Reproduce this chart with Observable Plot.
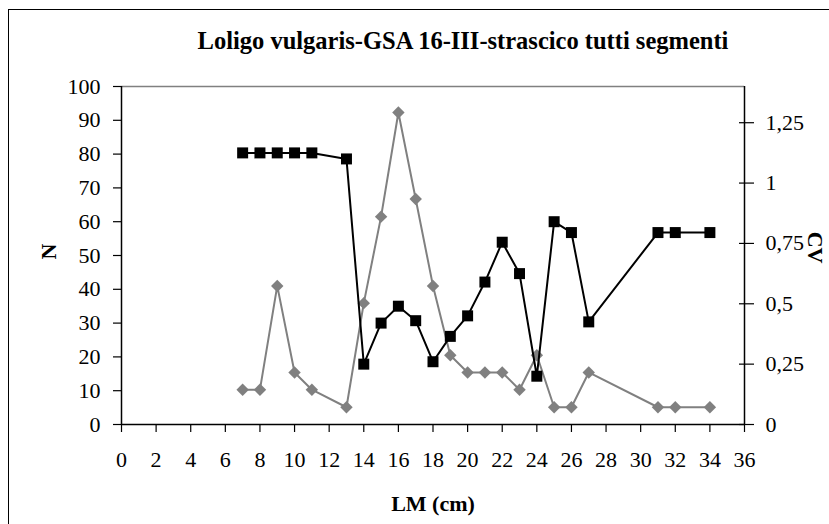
<!DOCTYPE html>
<html><head><meta charset="utf-8">
<script src="https://cdn.jsdelivr.net/npm/d3@7"></script>
<script src="https://cdn.jsdelivr.net/npm/@observablehq/plot@0.6"></script>
<style>
html,body{margin:0;padding:0;background:#fff;overflow:hidden;}
#wrap{position:relative;width:829px;height:524px;overflow:hidden;background:#fff;}
#border{position:absolute;left:8px;top:9px;width:1000px;height:1000px;border-left:1.5px solid #000;border-top:1.5px solid #000;}
#wrap svg{position:absolute;left:0;top:0;}
</style></head><body>
<div id="wrap"><div id="border"></div></div>
<script>
const title = "Loligo vulgaris-GSA 16-III-strascico tutti segmenti";
const xLabel = "LM (cm)";
const yLeftLabel = "N";
const yRightLabel = "CV";
const lm = [7, 8, 9, 10, 11, 13, 14, 15, 16, 17, 18, 19, 20, 21, 22, 23, 24, 25, 26, 27, 31, 32, 34];
const nValues = [10.3, 10.3, 41, 15.4, 10.3, 5.1, 35.9, 61.5, 92.3, 66.7, 41, 20.5, 15.4, 15.4, 15.4, 10.3, 20.5, 5.1, 5.1, 15.4, 5.1, 5.1, 5.1];
const cvValues = [1.125, 1.125, 1.125, 1.125, 1.125, 1.10, 0.25, 0.42, 0.49, 0.43, 0.26, 0.365, 0.45, 0.59, 0.755, 0.625, 0.20, 0.84, 0.795, 0.425, 0.795, 0.795, 0.795];
const xTicks = [0, 2, 4, 6, 8, 10, 12, 14, 16, 18, 20, 22, 24, 26, 28, 30, 32, 34, 36];
const nTicks = [0, 10, 20, 30, 40, 50, 60, 70, 80, 90, 100];
const cvTicks = [0, 0.25, 0.5, 0.75, 1, 1.25];
const cvTickLabels = ["0", "0,25", "0,5", "0,75", "1", "1,25"];
const nMax = 100, cvMax = 1.4;

const k = nMax / cvMax;
const data = lm.map((x, i) => ({lm: x, n: nValues[i], cv: cvValues[i] * k}));
const cvTickPos = cvTicks.map(t => t * k);
const font = "'Liberation Serif', 'Times New Roman', serif";

const chart = Plot.plot({
  width: 829, height: 524,
  marginLeft: 121, marginRight: 85, marginTop: 86, marginBottom: 100,
  style: {fontFamily: font, fontSize: "22px", background: "transparent", color: "#000", overflow: "visible"},
  x: {domain: [0, 36]},
  y: {domain: [0, nMax]},
  marks: [
    Plot.ruleY([nMax], {stroke: "#808080", strokeWidth: 1.5}),
    Plot.ruleX([36], {stroke: "#000", strokeWidth: 1.5}),
    Plot.ruleX([0], {stroke: "#000", strokeWidth: 1.5}),
    Plot.ruleY([0], {stroke: "#000", strokeWidth: 1.5}),
    Plot.axisX(xTicks, {tickSize: 8, tickPadding: 19, label: null, strokeWidth: 1.2, tickFormat: d => String(d)}),
    Plot.axisY(nTicks, {anchor: "left", tickSize: 8, tickPadding: 13, label: null, strokeWidth: 1.2, tickFormat: d => String(d)}),
    Plot.ruleY(cvTickPos, {x1: 36, x2: 36, insetLeft: -5, insetRight: -10, stroke: "#000", strokeWidth: 1.2}),
    Plot.axisY(cvTickPos, {anchor: "right", tickSize: 0, tickPadding: 21, label: null,
      tickFormat: d => cvTickLabels[cvTickPos.findIndex(t => Math.abs(t - d) < 1e-9)]}),
    Plot.line(data, {x: "lm", y: "n", stroke: "#808080", strokeWidth: 2}),
    Plot.dot(data, {x: "lm", y: "n", symbol: "diamond2", r: 5.6, fill: "#808080", stroke: "none"}),
    Plot.line(data, {x: "lm", y: "cv", stroke: "#000", strokeWidth: 2}),
    Plot.dot(data, {x: "lm", y: "cv", symbol: "square", r: 6.2, fill: "#000", stroke: "none"}),
    Plot.text([title], {frameAnchor: "top", dx: 30, dy: -45, lineAnchor: "middle", fontWeight: "bold", fontSize: 24.5}),
    Plot.text([yLeftLabel], {frameAnchor: "left", dx: -73, dy: 4, rotate: -90, lineAnchor: "middle", fontWeight: "bold", fontSize: 22}),
    Plot.text([yRightLabel], {frameAnchor: "right", dx: 71, dy: 8, rotate: 90, lineAnchor: "middle", fontWeight: "bold", fontSize: 22}),
    Plot.text([xLabel], {frameAnchor: "bottom", dy: 79, lineAnchor: "middle", fontWeight: "bold", fontSize: 22})
  ]
});
document.getElementById("wrap").appendChild(chart);
</script>
</body></html>
